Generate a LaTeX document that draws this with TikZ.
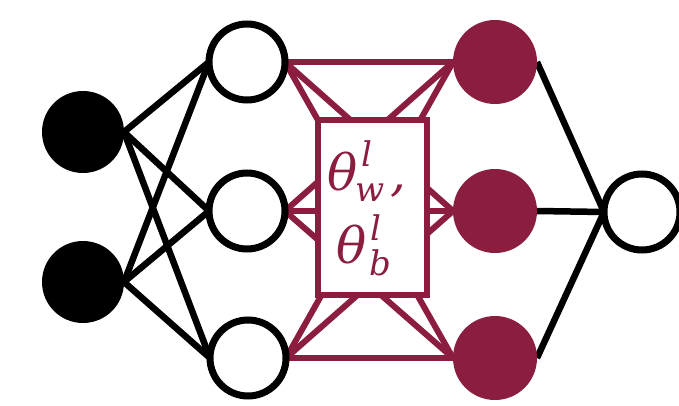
\documentclass[tikz,border=0pt]{standalone}
\usepackage{fontspec}
\newfontfamily\thf{DejaVu Serif}
\newcommand{\mysc}[1]{{\fontsize{34}{34}\selectfont #1}}
\usetikzlibrary{backgrounds}
\definecolor{wine}{RGB}{139,29,63}
\begin{document}
\begin{tikzpicture}[x=1pt,y=-1pt,
  inputnode/.style={circle,fill=black,minimum size=82pt,inner sep=0pt,outer sep=0pt},
  ringnode/.style={circle,draw=black,fill=white,line width=7pt,minimum size=76pt,inner sep=0pt,outer sep=0pt},
  rednode/.style={circle,fill=wine,minimum size=84pt,inner sep=0pt,outer sep=0pt},
  blackedge/.style={draw=black,line width=6.5pt},
  rededge/.style={draw=wine,line width=6pt},
  parambox/.style={rectangle,draw=wine,fill=white,line width=5.5pt,minimum width=109pt,minimum height=175pt,inner sep=0pt,outer sep=0pt},
  paramtext/.style={anchor=base west,inner sep=0pt,outer sep=0pt,text=wine,font=\thf\itshape\fontsize{50}{60}\selectfont}
]
\useasboundingbox (0,0) rectangle (679,406);
\node[inputnode] (i1) at (83,132) {};
\node[inputnode] (i2) at (83,282) {};
\node[ringnode] (h1) at (247,62) {};
\node[ringnode] (h2) at (247,211) {};
\node[ringnode] (h3) at (248,358) {};
\node[rednode] (r1) at (495,62) {};
\node[rednode] (r2) at (495,211) {};
\node[rednode] (r3) at (495,358) {};
\node[ringnode] (o) at (642,212) {};
\node[parambox] (box) at (372.5,207.5) {};
\node[paramtext] (tw) at (327,190) {θ\rlap{\hspace{4pt}\raisebox{24pt}{\mysc{l}}}\hspace{-2pt}\raisebox{-11pt}{\mysc{w}}\hspace{6pt},};
\node[paramtext] (tb) at (336,263) {θ\rlap{\hspace{4pt}\raisebox{23pt}{\mysc{l}}}\hspace{3pt}\raisebox{-12pt}{\mysc{b}}};
\begin{scope}[on background layer]
  \foreach \a in {i1,i2}{
    \foreach \b in {h1,h2,h3}{
      \draw[blackedge] (\a.east) -- (\b.west);
    }
  }
  \foreach \a in {h1,h2,h3}{
    \foreach \b in {r1,r2,r3}{
      \draw[rededge] (\a.east) -- (\b.west);
    }
  }
  \foreach \a in {r1,r2,r3}{
    \draw[blackedge] (\a.east) -- (o.west);
  }
\end{scope}
\end{tikzpicture}
\end{document}
